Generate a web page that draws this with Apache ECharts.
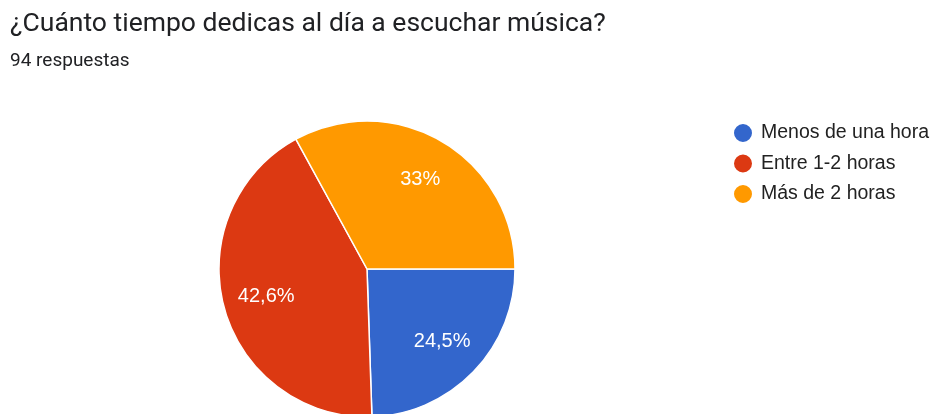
<!DOCTYPE html>
<html><head><meta charset="utf-8">
<script src="https://cdn.jsdelivr.net/npm/echarts@6/dist/echarts.min.js"></script>
<style>html,body{margin:0;padding:0;background:#fff}#c{width:934px;height:414px}</style>
</head><body><div id="c"></div>
<script>
const titleText = '¿Cuánto tiempo dedicas al día a escuchar música?';
const subText = '94 respuestas';
const categories = ['Menos de una hora', 'Entre 1-2 horas', 'Más de 2 horas'];
const counts = [23, 40, 31];
const colors = ['#3366CC', '#DC3912', '#FF9900'];

const data = categories.map((n, i) => ({ name: n, value: counts[i], itemStyle: { color: colors[i] } }));
const total = counts.reduce((a, b) => a + b, 0);
function fmt(p) {
  const v = Math.round(p.value / total * 1000) / 10;
  return (v % 1 === 0 ? v.toFixed(0) : v.toFixed(1)).replace('.', ',') + '%';
}
const arialLike = "'Liberation Sans', Arial, sans-serif";
const chart = echarts.init(document.getElementById('c'), null, { renderer: 'canvas' });
chart.setOption({
  animation: false,
  backgroundColor: '#ffffff',
  title: {
    text: titleText, subtext: subText, left: 5, top: 6, itemGap: 14,
    textStyle: { fontFamily: 'Roboto', fontSize: 26.5, fontWeight: 'normal', color: '#202124' },
    subtextStyle: { fontFamily: 'Roboto', fontSize: 19, color: '#202124' }
  },
  legend: {
    orient: 'vertical', left: 727, top: 117, icon: 'circle', itemWidth: 20, itemHeight: 20, itemGap: 8.5,
    textStyle: { fontFamily: arialLike, fontSize: 19.5, color: '#222222', padding: [0, 0, 0, 3] },
    data: categories
  },
  series: [{
    type: 'pie', center: [367, 269], radius: 148, startAngle: 0, clockwise: true,
    label: { show: false }, labelLine: { show: false },
    itemStyle: { borderColor: '#ffffff', borderWidth: 1.5 },
    emphasis: { disabled: true },
    data: data
  }, {
    type: 'pie', center: [367, 269], radius: [55, 148], startAngle: 0, clockwise: true, silent: true,
    itemStyle: { color: 'rgba(0,0,0,0)', borderWidth: 0 },
    label: { show: true, position: 'inside', formatter: fmt, color: '#ffffff', fontFamily: arialLike, fontSize: 20 },
    labelLine: { show: false },
    emphasis: { disabled: true },
    legendHoverLink: false,
    data: categories.map((n, i) => ({ name: n + ' ', value: counts[i] }))
  }]
});
</script></body></html>
